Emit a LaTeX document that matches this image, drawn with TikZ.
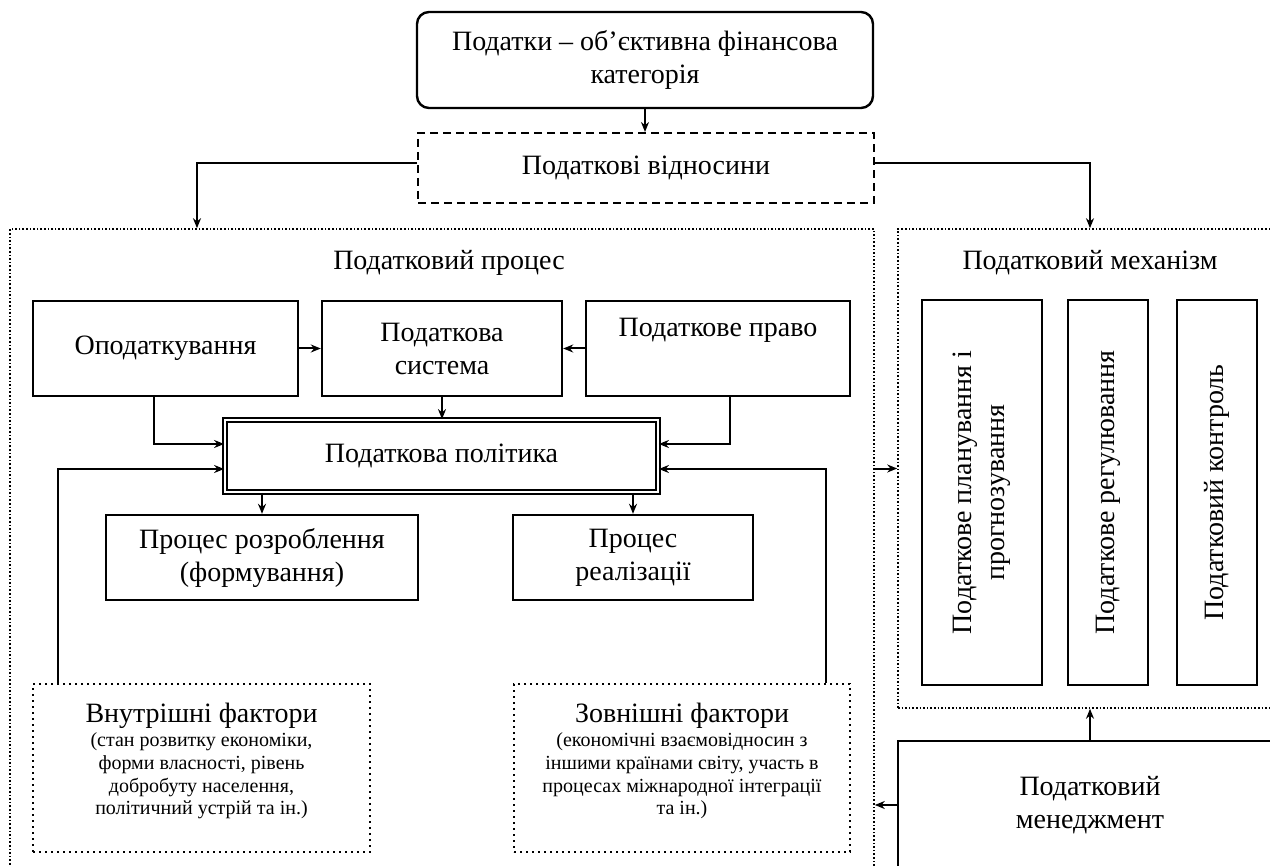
\documentclass[tikz,border=0pt]{standalone}
\usepackage{fontspec}
\setmainfont{Liberation Serif}
\usetikzlibrary{arrows.meta}

\begin{document}
\begin{tikzpicture}[x=0.5pt, y=-0.5pt,
				every node/.style={font=\fontsize{14}{16.5}\selectfont},
				box/.style={rectangle, draw=black, line width=1.2pt, align=center, inner sep=0pt},
				rbox/.style={box, rounded corners=6pt},
				dbox/.style={box, line width=1pt, dash pattern=on 4pt off 2.5pt},
				cont/.style={rectangle, draw=black, line width=0.8pt, densely dotted, inner sep=0pt},
				factor/.style={rectangle, draw=black, line width=1pt, dotted, inner sep=0pt, text width=165pt, align=flush center},
				vbox/.style={box, rotate=90}
			]
			\useasboundingbox (0,0) rectangle (1270,866);
			\clip (0,0) rectangle (1270,866);
			\node[rbox, minimum width=228pt, minimum height=48pt] (tax) at (645,60) {Податки – об’єктивна фінансова\\категорія};
			\node[dbox, minimum width=228pt, minimum height=35pt] (rel) at (646,168) {Податкові відносини};
			% процес
			\node[cont, minimum width=432pt, minimum height=340pt] (proc) at (442,569) {};
			\node (proct) at (449,263) {Податковий процес};
			\node[box, minimum width=132.5pt, minimum height=47.5pt] (opod) at (165.5,348.5) {Оподаткування};
			\node[box, minimum width=120pt, minimum height=47.5pt] (sys) at (442,348.5) {Податкова\\система};
			\node[box, minimum width=132pt, minimum height=47.5pt] (law) at (718,348.5) {Податкове право\\\strut};
			\node[box, line width=0.9pt, double, double distance=1.2pt, minimum width=216.5pt, minimum height=36pt] (pol) at (441.5,456) {Податкова політика};
			\node[box, minimum width=156pt, minimum height=42.5pt] (dev) at (262,557.5) {Процес розроблення\\(формування)};
			\node[box, minimum width=120pt, minimum height=42.5pt] (real) at (633,557.5) {Процес\\реалізації};
			\node[factor, minimum width=168.5pt, minimum height=84pt] (int) at (201.5,768) {Внутрішні фактори\par\vspace{1pt}{\fontsize{10}{11.3}\selectfont (стан розвитку економіки,\\форми власності, рівень\\добробуту населення,\\політичний устрій та ін.)\par}\vspace{7pt}\nointerlineskip\mbox{}};
			\node[factor, minimum width=168pt, minimum height=84pt] (ext) at (682,768) {Зовнішні фактори\par\vspace{1pt}{\fontsize{10}{11.3}\selectfont (економічні взаємовідносин з\\іншими країнами світу, участь в\\процесах міжнародної інтеграції\\та ін.)\par}\vspace{7pt}\nointerlineskip\mbox{}};
			% механізм
			\node[cont, minimum width=192pt, minimum height=239.5pt] (mech) at (1090,468.5) {};
			\node (mecht) at (1090,263) {Податковий механізм};
			\node[vbox, minimum width=192.5pt, minimum height=60pt] (plan) at (982,492.5) {Податкове планування і\\прогнозування};
			\node[vbox, minimum width=192.5pt, minimum height=40pt] (regul) at (1108,492.5) {Податкове регулювання};
			\node[vbox, minimum width=192.5pt, minimum height=40pt] (ctrl) at (1217,492.5) {Податковий контроль};
			\node[box, minimum width=192pt, minimum height=64pt] (men) at (1090,805) {Податковий\\менеджмент};
			\begin{scope}[line width=1pt, -{Stealth[length=5pt, width=4pt]}]
			\draw (tax.south) -- (tax.south |- rel.north);
			\draw ([yshift=2.5pt]rel.west) -| ([xshift=-122.5pt]proc.north);
			\draw ([yshift=2.5pt]rel.east) -| (mech.north);
			\draw (opod.east) -- (sys.west);
			\draw (law.west) -- (sys.east);
			\draw (sys.south) -- (sys.south |- pol.north);
			\draw ([xshift=-5.75pt]opod.south) |- ([yshift=6pt]pol.west);
			\draw ([xshift=6pt]law.south) |- ([yshift=6pt]pol.east);
			\draw ([xshift=-71.75pt]int.north) |- ([yshift=-6.5pt]pol.west);
			\draw ([xshift=72pt]ext.north) |- ([yshift=-6.5pt]pol.east);
			\draw (pol.south -| dev.north) -- (dev.north);
			\draw (pol.south -| real.north) -- (real.north);
			\draw (mech.west -| proc.east) -- (mech.west);
			\draw (men.north) -- (mech.south);
			\draw (men.west) -- (men.west -| proc.east);
			\end{scope}
			\end{tikzpicture}
\end{document}
